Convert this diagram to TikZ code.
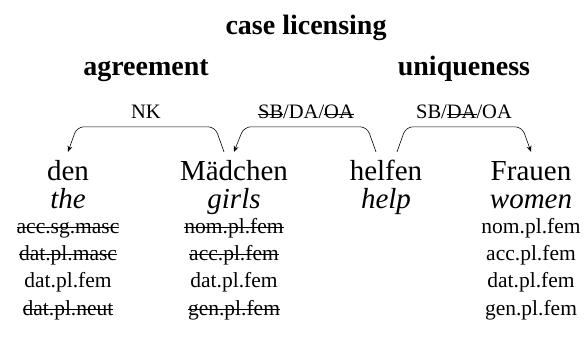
\documentclass[tikz,border=0pt]{standalone}
\usepackage{fontspec}
\setmainfont{Liberation Serif}
\usetikzlibrary{arrows.meta,calc}

% struck-out text: a thin rule drawn through the middle of the x-height
\newsavebox\strkbox
\newcommand\strk[1]{\sbox\strkbox{#1}\rlap{\raise0.24em\hbox{\vrule height 0.55pt depth 0pt width \wd\strkbox}}\usebox\strkbox}

\tikzset{
  header/.style={anchor=base, inner sep=0pt, font=\fontsize{28}{31}\selectfont\bfseries},
  word/.style={anchor=base, inner sep=0pt, text height=28pt, font=\fontsize{29}{32}\selectfont},
  gloss/.style={anchor=base, inner sep=0pt, font=\fontsize{29}{32}\selectfont\itshape},
  tag/.style={anchor=base, inner sep=0pt, font=\fontsize{21.5}{24}\selectfont},
  rel/.style={anchor=base, inner sep=0pt, font=\fontsize{20.5}{23}\selectfont},
  dep/.style={line width=0.6pt, rounded corners=7pt, -{Stealth[length=6pt,width=5pt,inset=2pt]}},
}

\begin{document}
\begin{tikzpicture}[x=1pt,y=1pt]
\useasboundingbox (0,0) rectangle (586,338);

% headings
\node[header] (title) at (306,303) {case licensing};
\node[header] (agr) at (146,262) {agreement};
\node[header] (uniq) at (464,262) {uniqueness};

% words and glosses
\node[word] (den) at (68,158) {den};
\node[word] (mad) at (234,158) {Mädchen};
\node[word] (hel) at (386,158) {helfen};
\node[word] (fra) at (531,158) {Frauen};

\node[gloss] (gden) at (68,130) {the};
\node[gloss] (gmad) at (234,130) {girls};
\node[gloss] (ghel) at (386,130) {help};
\node[gloss] (gfra) at (531,130) {women};

% case/number/gender readings
\node[tag] (d1) at (68,105) {\strk{acc.sg.masc}};
\node[tag] (d2) at (68,78)  {\strk{dat.pl.masc}};
\node[tag] (d3) at (68,51)  {dat.pl.fem};
\node[tag] (d4) at (68,23)  {\strk{dat.pl.neut}};

\node[tag] (m1) at (234,105) {\strk{nom.pl.fem}};
\node[tag] (m2) at (234,78)  {\strk{acc.pl.fem}};
\node[tag] (m3) at (234,51)  {dat.pl.fem};
\node[tag] (m4) at (234,23)  {\strk{gen.pl.fem}};

\node[tag] (f1) at (531,105) {nom.pl.fem};
\node[tag] (f2) at (531,78)  {acc.pl.fem};
\node[tag] (f3) at (531,51)  {dat.pl.fem};
\node[tag] (f4) at (531,23)  {gen.pl.fem};

% dependency labels
\node[rel] (lnk) at (146,219) {NK};
\node[rel] (lsb) at (306,219) {\strk{SB}/DA/\strk{OA}};
\node[rel] (loa) at (464,219) {SB/\strk{DA}/OA};

% dependency arcs
\draw[dep] ([xshift=-10pt]mad.north) -- ++(-9,25) -- ($(den.north)+(9,25)$) -- (den.north);
\draw[dep] ([xshift=-10pt]hel.north) -- ++(-9,25) -- ($(mad.north)+(10,25)$) -- (mad.north);
\draw[dep] ([xshift=11pt]hel.north) -- ++(9,25) -- ($(fra.north)+(-9,25)$) -- (fra.north);
\end{tikzpicture}
\end{document}
